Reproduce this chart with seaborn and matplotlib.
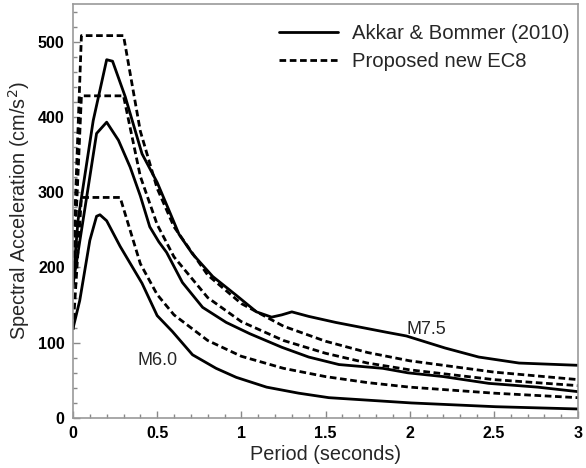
import matplotlib
matplotlib.use("Agg")
import matplotlib.pyplot as plt
from matplotlib.ticker import MultipleLocator
import seaborn as sns
import pandas as pd

# --- Akkar & Bommer (2010) curves (solid) ---
ab_m75_T = [0, 0.03, 0.12, 0.2, 0.235, 0.31, 0.41, 0.5, 0.57, 0.63, 0.71, 0.83, 0.97, 1.09, 1.18, 1.24, 1.30, 1.40, 1.56, 1.86, 1.98, 2.21, 2.41, 2.65, 3.0]
ab_m75_SA = [180, 263, 395, 476, 474, 427, 351, 313, 276, 244, 218, 188, 163, 141, 134, 137, 141, 135, 127, 114, 109, 93, 81, 73, 70]

ab_mid_T = [0, 0.06, 0.14, 0.2, 0.27, 0.34, 0.4, 0.456, 0.51, 0.556, 0.65, 0.77, 0.91, 1.05, 1.24, 1.40, 1.58, 1.84, 1.99, 2.2, 2.47, 2.76, 3.0]
ab_mid_SA = [177, 263, 378, 393, 369, 333, 295, 254, 234, 220, 180, 147, 127, 112, 94, 81, 71, 66, 60, 55, 46, 41, 35]

ab_m60_T = [0, 0.04, 0.1, 0.14, 0.16, 0.2, 0.28, 0.41, 0.5, 0.59, 0.71, 0.85, 0.97, 1.15, 1.34, 1.52, 2.01, 2.51, 3.0]
ab_m60_SA = [119, 156, 236, 268, 270, 262, 228, 179, 136, 115, 84, 66, 54, 41, 33, 27, 20, 15, 12]

# --- Proposed new EC8 curves (dashed) ---
ec8_hi_T = [0, 0.05, 0.3, 0.4, 0.5, 0.6, 0.8, 1.0, 1.25, 1.5, 1.75, 2.0, 2.5, 3.0]
ec8_hi_SA = [200, 508, 508, 381, 305, 254, 190, 152, 122, 102, 87, 76, 61, 51]

ec8_mid_T = [0, 0.05, 0.3, 0.4, 0.5, 0.6, 0.8, 1.0, 1.25, 1.5, 1.75, 2.0, 2.5, 3.0]
ec8_mid_SA = [172, 428, 428, 321, 257, 214, 160, 128, 103, 86, 73, 64, 51, 43]

ec8_lo_T = [0, 0.05, 0.28, 0.4, 0.5, 0.6, 0.8, 1.0, 1.25, 1.5, 1.75, 2.0, 2.5, 3.0]
ec8_lo_SA = [117, 293, 293, 205, 164, 137, 103, 82, 66, 55, 47, 41, 33, 27]

legend_labels = ["Akkar & Bommer (2010)", "Proposed new EC8"]

curves = [
    ("AB M7.5", legend_labels[0], ab_m75_T, ab_m75_SA),
    ("AB mid", legend_labels[0], ab_mid_T, ab_mid_SA),
    ("AB M6.0", legend_labels[0], ab_m60_T, ab_m60_SA),
    ("EC8 hi", legend_labels[1], ec8_hi_T, ec8_hi_SA),
    ("EC8 mid", legend_labels[1], ec8_mid_T, ec8_mid_SA),
    ("EC8 lo", legend_labels[1], ec8_lo_T, ec8_lo_SA),
]
rows = []
for name, src, T, SA in curves:
    for t, s in zip(T, SA):
        rows.append({"curve": name, "source": src, "T": t, "SA": s})
df = pd.DataFrame(rows)

sns.set_style("white")
plt.rcParams["font.family"] = ["Liberation Sans", "DejaVu Sans"]

fig = plt.figure(figsize=(5.86, 4.68), dpi=100)
ax = fig.add_axes([73/586, 1 - 418/468, (578 - 73)/586, (418 - 4)/468])

sns.lineplot(data=df, x="T", y="SA", units="curve", style="source", estimator=None,
             color="black", linewidth=2.0, sort=False,
             dashes={legend_labels[0]: "", legend_labels[1]: (2.4, 1.3)},
             style_order=legend_labels, ax=ax)

handles, labels = ax.get_legend_handles_labels()
hl = [(h, l) for h, l in zip(handles, labels) if l in legend_labels]
ax.legend([h for h, _ in hl], [l for _, l in hl], loc="upper right",
          frameon=False, fontsize=14.6, handlelength=2.9, handletextpad=0.7,
          labelspacing=0.45, borderaxespad=0.0, bbox_to_anchor=(1.0, 0.972))

ax.set_xlim(0, 3)
ax.set_ylim(0, 550)
ax.set_xticks([0, 0.5, 1, 1.5, 2, 2.5, 3])
ax.set_xticklabels(["0", "0.5", "1", "1.5", "2", "2.5", "3"])
ax.set_yticks([0, 100, 200, 300, 400, 500])
ax.xaxis.set_minor_locator(MultipleLocator(0.1))
ax.yaxis.set_minor_locator(MultipleLocator(20))
ax.tick_params(axis="both", which="both", direction="in", top=False, right=False,
               bottom=True, left=True, colors="#888888", labelcolor="black")
ax.tick_params(which="major", length=5, width=1, labelsize=11.5, pad=6)
ax.tick_params(which="minor", length=3, width=1)
for lab in ax.get_xticklabels() + ax.get_yticklabels():
    lab.set_fontweight("bold")

for sp in ax.spines.values():
    sp.set_color("#999999")
    sp.set_linewidth(1.2)

ax.set_xlabel("Period (seconds)", fontsize=14.3, labelpad=3)
ax.set_ylabel("Spectral Acceleration (cm/s$^2$)", fontsize=14.3, labelpad=4)

ax.text(0.5, 77, "M6.0", fontsize=13, ha="center", va="center")
ax.text(2.1, 117, "M7.5", fontsize=13, ha="center", va="center")

fig.savefig("out.png", dpi=100)
